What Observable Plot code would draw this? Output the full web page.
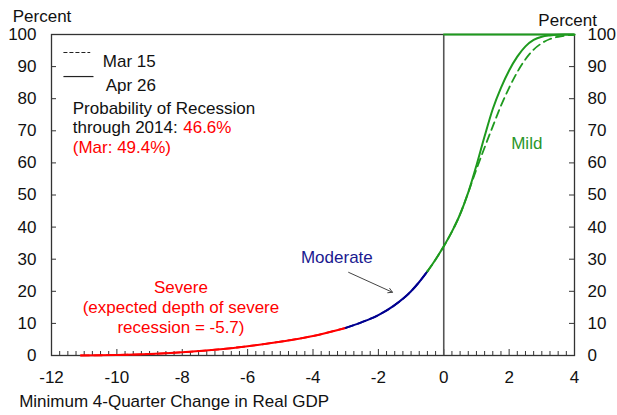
<!DOCTYPE html>
<html><head><meta charset="utf-8">
<script src="https://cdn.jsdelivr.net/npm/d3@7"></script>
<script src="https://cdn.jsdelivr.net/npm/@observablehq/plot@0.6"></script>
<style>
html,body{margin:0;padding:0;background:#fff;}
#chart svg{font-family:"Liberation Sans",Arial,sans-serif;font-size:17px;}
</style>
</head><body><div id="chart"></div>
<script>
// ---- data ----
const xTickLabels = [-12,-10,-8,-6,-4,-2,0,2,4];
const yTickLabels = [0,10,20,30,40,50,60,70,80,90,100];
const gdpChange = [-11.1,-10,-9,-8,-7,-6,-5,-4,-3,-2.5,-2,-1.5,-1,-0.75,-0.5,-0.25,0,0.25,0.5,0.75,1,1.25,1.5,1.75,2,2.25,2.5,2.75,3,3.25,3.5,3.75,4];
const probApr26 = [0.02,0.15,0.45,1.0,1.8,2.9,4.3,6.1,8.6,10.4,12.6,15.7,20.0,22.9,26.2,29.9,34,38.6,44,50.8,59.2,68.3,76.8,83.4,88.8,93.1,96.3,98.3,99.3,99.7,99.9,99.97,100];
const probMar15 = [0.02,0.15,0.45,1.0,1.8,2.9,4.3,6.1,8.6,10.4,12.6,15.7,20.0,22.9,26.2,29.9,34,38.6,44,50.8,58.0,64.8,71.4,77.8,83.4,88.3,92.3,95.3,97.3,98.6,99.3,99.7,99.9];
const regionNames = ["Severe","Moderate","Mild"];
const regionUpper = [-3,-0.5,4];
const seriesNames = ["Mar 15","Apr 26"];

// ---- build rows split by region ----
function rows(xs, ys){
  const out = [];
  xs.forEach((x,i)=>{
    const k = regionUpper.findIndex(u => x <= u);
    out.push({x, y: ys[i], region: regionNames[k]});
    if (x === regionUpper[k] && k < regionNames.length-1) out.push({x, y: ys[i], region: regionNames[k+1]});
  });
  return out;
}
const aprRows = rows(gdpChange, probApr26);
const marRows = rows(gdpChange, probMar15);

const W = 617, H = 415, mL = 51, mR = 43, mT = 34, mB = 60;
const pw = W - mL - mR, ph = H - mT - mB;
const RED = "#ff0000", BLUE = "#000090", GREEN = "#1e9a1e", INK = "#111";
const xMinor = d3.range(-12, 4.001, 0.25).filter(v => Math.abs(v - Math.round(v)) > 1e-9 || Math.round(v) % 2 !== 0);
const hyphen = d => d < 0 ? "-" + Math.abs(d) : String(d);

const chart = Plot.plot({
  width: W, height: H,
  marginLeft: mL, marginRight: mR, marginTop: mT, marginBottom: mB,
  style: {fontFamily: "'Liberation Sans', Arial, sans-serif", fontSize: "17px", color: INK, background: "#fff", overflow: "visible"},
  x: {domain: [-12, 4]},
  y: {domain: [0, 100]},
  color: {domain: regionNames, range: [RED, BLUE, GREEN]},
  marks: [
    Plot.axisX(xTickLabels, {anchor: "bottom", tickSize: 0, tickPadding: 15, label: null, tickFormat: hyphen}),
    Plot.axisY(yTickLabels, {anchor: "left", tickSize: 0, tickPadding: 15, label: null}),
    Plot.axisY(yTickLabels, {anchor: "right", tickSize: 0, tickPadding: 13, label: null}),
    // inward ticks
    Plot.ruleX(xMinor, {stroke: "#333", insetTop: ph - 4}),
    Plot.ruleX(xTickLabels, {stroke: "#333", insetTop: ph - 6}),
    Plot.ruleY(yTickLabels, {stroke: "#333", insetRight: pw - 5}),
    Plot.ruleY(yTickLabels, {stroke: "#333", insetLeft: pw - 5}),
    Plot.frame({stroke: "#333", strokeWidth: 1.3}),
    Plot.ruleX([0], {stroke: "#555", strokeWidth: 1.6}),
    // curves
    Plot.line(marRows, {x: "x", y: "y", stroke: "region", strokeWidth: 1.8, strokeDasharray: "8,5", curve: "monotone-x"}),
    Plot.line(aprRows, {x: "x", y: "y", stroke: "region", strokeWidth: 2, curve: "monotone-x"}),
    Plot.ruleY([100], {x1: 0, x2: 4, stroke: GREEN, strokeWidth: 2}),
    // legend
    Plot.ruleY([94.4], {x1: -11.62, x2: -10.8, stroke: "#222", strokeWidth: 1.2, strokeDasharray: "4,2"}),
    Plot.ruleY([86.9], {x1: -11.62, x2: -10.7, stroke: "#222", strokeWidth: 1.2}),
    Plot.text([seriesNames[0]], {x: -10.43, y: 91.6, text: d => d, textAnchor: "start", fill: INK}),
    Plot.text([seriesNames[1]], {x: -10.34, y: 84.1, text: d => d, textAnchor: "start", fill: INK}),
    // annotations
    Plot.text(["Probability of Recession"], {x: -11.35, y: 76.9, text: d => d, textAnchor: "start", fill: INK}),
    Plot.text(["through 2014:"], {x: -11.35, y: 71.0, text: d => d, textAnchor: "start", fill: INK}),
    Plot.text(["46.6%"], {x: -7.97, y: 71.0, text: d => d, textAnchor: "start", fill: RED}),
    Plot.text(["(Mar: 49.4%)"], {x: -11.35, y: 64.8, text: d => d, textAnchor: "start", fill: RED}),
    Plot.text(["Severe\n(expected depth of severe\nrecession = -5.7)"], {x: -8.04, y: 15.3, text: d => d, textAnchor: "middle", lineHeight: 1.17, fill: RED}),
    Plot.text(["Moderate"], {x: -3.27, y: 30.6, text: d => d, textAnchor: "middle", fill: "#1a1a90"}),
    Plot.arrow([0], {x1: -2.91, y1: 25.9, x2: -1.57, y2: 19.7, stroke: "#444", strokeWidth: 1, headLength: 7}),
    Plot.text(["Mild"], {x: 2.54, y: 66.0, text: d => d, textAnchor: "middle", fill: "#2a962a"}),
    Plot.text(["Percent"], {x: -12.29, y: 105.6, text: d => d, textAnchor: "middle", fill: INK}),
    Plot.text(["Percent"], {x: 3.79, y: 104.4, text: d => d, textAnchor: "middle", fill: INK}),
    Plot.text(["Minimum 4-Quarter Change in Real GDP"], {x: -12.99, y: -14.4, text: d => d, textAnchor: "start", fill: INK})
  ]
});
document.getElementById("chart").appendChild(chart);
</script>
</body></html>
